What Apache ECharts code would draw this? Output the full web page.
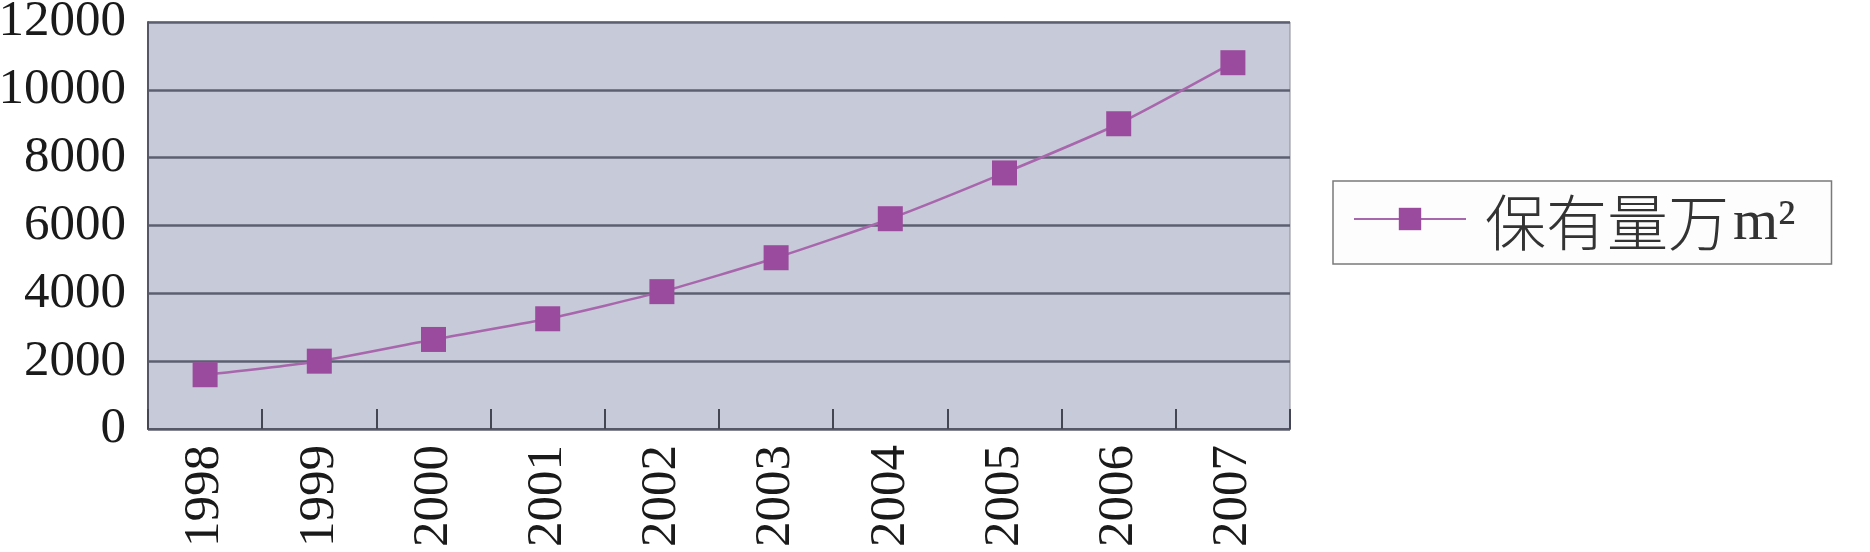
<!DOCTYPE html>
<html>
<head>
<meta charset="utf-8">
<script src="https://cdn.jsdelivr.net/npm/echarts@6/dist/echarts.min.js"></script>
<style>
  html, body { margin: 0; padding: 0; background: #ffffff; }
  #chart { width: 1870px; height: 552px; }
</style>
</head>
<body>
<div id="chart"></div>
<script>
const years = ['1998', '1999', '2000', '2001', '2002', '2003', '2004', '2005', '2006', '2007'];
const stock = [1600, 2000, 2640, 3250, 4050, 5050, 6200, 7550, 9000, 10800];
const seriesName = '保有量万m²';
const legendMain = '保有量万';
const legendUnit = 'm²';
const yMin = 0, yMax = 12000, yStep = 2000;

const chart = echarts.init(document.getElementById('chart'), null, { renderer: 'canvas' });
chart.setOption({
  animation: false,
  backgroundColor: '#ffffff',
  grid: {
    left: 148, top: 22, right: 580, bottom: 123,
    containLabel: false,
    outerBoundsMode: 'none',
    show: true,
    backgroundColor: '#c7cad8',
    borderColor: '#8a8c98',
    borderWidth: 1
  },
  legend: {
    left: 1333, top: 181,
    padding: [11, 36, 11, 20],
    backgroundColor: '#fdfdfd',
    borderColor: '#7a7a7a',
    borderWidth: 1.5,
    itemWidth: 112,
    itemHeight: 28,
    data: [seriesName],
    formatter: function () { return '{a|' + legendMain + '}{b|' + legendUnit + '}'; },
    textStyle: {
      padding: [0, 0, 0, 14],
      rich: {
        a: { fontFamily: '"Noto Sans CJK SC"', fontSize: 61, lineHeight: 68, color: '#333333', fontWeight: 300, verticalAlign: 'bottom' },
        b: { fontFamily: '"Liberation Serif", serif', fontSize: 58, lineHeight: 52, color: '#333333', padding: [0, 0, 0, 4], verticalAlign: 'bottom' }
      }
    }
  },
  xAxis: {
    type: 'category',
    data: years,
    boundaryGap: true,
    axisLine: { show: true, lineStyle: { color: '#555766', width: 2 } },
    axisTick: { show: true, inside: true, length: 20, lineStyle: { color: '#444654', width: 2 } },
    axisLabel: {
      rotate: 90, margin: 16,
      fontFamily: '"Liberation Serif", serif', fontSize: 51, color: '#1a1a1a'
    },
    splitLine: { show: false }
  },
  yAxis: {
    type: 'value',
    min: yMin, max: yMax, interval: yStep,
    axisLine: { show: true, lineStyle: { color: '#555766', width: 2 } },
    axisTick: { show: false },
    axisLabel: {
      margin: 22,
      formatter: function (v) { return String(v); },
      fontFamily: '"Liberation Serif", serif', fontSize: 51, color: '#1a1a1a'
    },
    splitLine: { show: true, lineStyle: { color: '#5c5f70', width: 2.5 } }
  },
  series: [{
    name: seriesName,
    type: 'line',
    data: stock,
    smooth: 0.2,
    symbol: 'rect',
    symbolSize: 25,
    itemStyle: { color: '#9b4b9e' },
    lineStyle: { color: '#a866ad', width: 2.5 }
  }]
});
</script>
</body>
</html>
